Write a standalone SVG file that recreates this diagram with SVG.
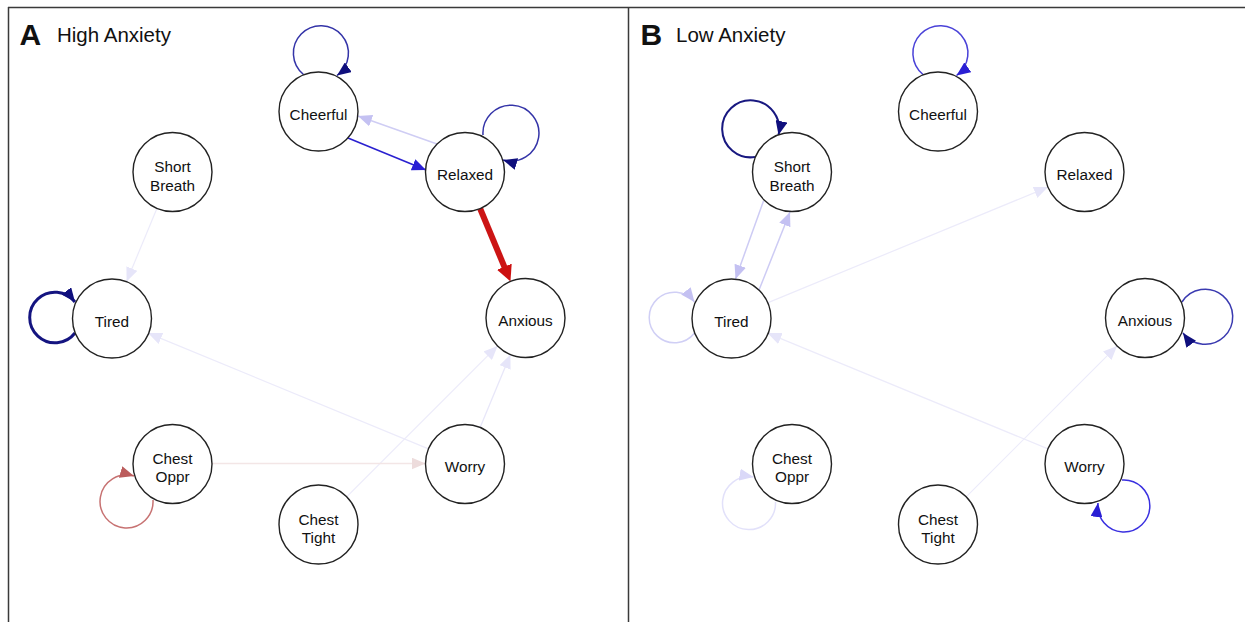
<svg xmlns="http://www.w3.org/2000/svg" width="1245" height="622" viewBox="0 0 1245 622">
<style>
.frame{stroke:#3a3a3a;stroke-width:1.5;fill:none}
.node circle{fill:#fff;stroke:#222;stroke-width:1.4}
.node text{font-family:"Liberation Sans",Arial,sans-serif;font-size:15.3px;fill:#111;text-anchor:middle}
.ttl{font-family:"Liberation Sans",Arial,sans-serif;fill:#111}
.e{fill:none}
</style>
<defs>
<marker id="m-navy" viewBox="0 0 14 12" markerUnits="userSpaceOnUse" markerWidth="14" markerHeight="12" refX="14" refY="6" orient="auto"><path d="M0,0 L14,6 L0,12 z" fill="#0f0f7d"/></marker>
<marker id="m-blue" viewBox="0 0 14 12" markerUnits="userSpaceOnUse" markerWidth="14" markerHeight="12" refX="14" refY="6" orient="auto"><path d="M0,0 L14,6 L0,12 z" fill="#2a1fd4"/></marker>
<marker id="m-lav" viewBox="0 0 14 12" markerUnits="userSpaceOnUse" markerWidth="14" markerHeight="12" refX="14" refY="6" orient="auto"><path d="M0,0 L14,6 L0,12 z" fill="#c4c1f2"/></marker>
<marker id="m-lav2" viewBox="0 0 14 12" markerUnits="userSpaceOnUse" markerWidth="14" markerHeight="12" refX="14" refY="6" orient="auto"><path d="M0,0 L14,6 L0,12 z" fill="#dad8f8"/></marker>
<marker id="m-vlight" viewBox="0 0 14 12" markerUnits="userSpaceOnUse" markerWidth="14" markerHeight="12" refX="14" refY="6" orient="auto"><path d="M0,0 L14,6 L0,12 z" fill="#e6e5f9"/></marker>
<marker id="m-pink" viewBox="0 0 14 12" markerUnits="userSpaceOnUse" markerWidth="14" markerHeight="12" refX="14" refY="6" orient="auto"><path d="M0,0 L14,6 L0,12 z" fill="#eddcdc"/></marker>
<marker id="m-brown" viewBox="0 0 14 12" markerUnits="userSpaceOnUse" markerWidth="14" markerHeight="12" refX="14" refY="6" orient="auto"><path d="M0,0 L14,6 L0,12 z" fill="#bb5c5c"/></marker>
<marker id="m-red" viewBox="0 0 16 16" markerUnits="userSpaceOnUse" markerWidth="16" markerHeight="16" refX="1" refY="8" orient="auto"><path d="M0,0 L16,8 L0,16 z" fill="#cc1010"/></marker>
</defs>
<rect width="1245" height="622" fill="#fff"/>
<g id="frame">
<line class="frame" x1="8" y1="7.5" x2="1245" y2="7.5"/>
<line class="frame" x1="8.5" y1="7" x2="8.5" y2="622"/>
<line class="frame" x1="628.5" y1="7" x2="628.5" y2="622"/>
</g>
<g id="titles">
<text class="ttl" x="19.5" y="45" font-size="30" font-weight="bold">A</text>
<text class="ttl" x="57" y="42" font-size="20.5">High Anxiety</text>
<text class="ttl" x="640.5" y="45" font-size="30" font-weight="bold">B</text>
<text class="ttl" x="676" y="42" font-size="20.5">Low Anxiety</text>
</g>
<g id="connectors">
<g id="edges-a">
<path class="e" d="M303.5,74.5 A27.5,27.5 0 1 1 337,75.5" stroke="#3434a8" stroke-width="1.5" marker-end="url(#m-navy)"/>
<path class="e" d="M483,135 A28,28 0 1 1 503,160" stroke="#3434a8" stroke-width="1.5" marker-end="url(#m-navy)"/>
<path class="e" d="M75,333 A25.3,25.3 0 1 1 75,302" stroke="#141480" stroke-width="3" marker-end="url(#m-navy)"/>
<path class="e" d="M153,500 A26.5,26.5 0 1 1 134,476" stroke="#c77272" stroke-width="1.5" marker-end="url(#m-brown)"/>
<path class="e" d="M348,138 L426,170" stroke="#2a20d0" stroke-width="1.6" marker-end="url(#m-blue)"/>
<path class="e" d="M437,144 L358,116" stroke="#cfcdf4" stroke-width="1.5" marker-end="url(#m-lav)"/>
<path class="e" d="M480.1,208.5 L504.7,267.6" stroke="#cc1414" stroke-width="6" marker-end="url(#m-red)"/>
<path class="e" d="M480.1,427.5 L510.4,354.5" stroke="#e8e7f9" stroke-width="1.3" marker-end="url(#m-vlight)"/>
<path class="e" d="M346.4,497.1 L497.6,345.9" stroke="#ecebfa" stroke-width="1.2" marker-end="url(#m-vlight)"/>
<path class="e" d="M211.5,463.5 L425.5,463.5" stroke="#f3e6e6" stroke-width="1.3" marker-end="url(#m-pink)"/>
<path class="e" d="M428.5,448.9 L148,333.1" stroke="#ecebfa" stroke-width="1.2" marker-end="url(#m-vlight)"/>
<path class="e" d="M156.9,208.5 L126.6,281.5" stroke="#ecebfa" stroke-width="1.2" marker-end="url(#m-vlight)"/>
</g>
<g id="edges-b" transform="translate(619.5,0)">
<path class="e" d="M303.5,74.5 A27.5,27.5 0 1 1 337,75.5" stroke="#4a42d8" stroke-width="1.5" marker-end="url(#m-blue)"/>
<path class="e" d="M135.5,157 A28.5,28.5 0 1 1 159,135" stroke="#181880" stroke-width="2" marker-end="url(#m-navy)"/>
<path class="e" d="M144,201 L116,279" stroke="#cdcbf4" stroke-width="1.5" marker-end="url(#m-lav)"/>
<path class="e" d="M139.5,290 L170.5,212" stroke="#cdcbf4" stroke-width="1.5" marker-end="url(#m-lav)"/>
<path class="e" d="M75,333 A25.3,25.3 0 1 1 75,302" stroke="#d0cff5" stroke-width="1.5" marker-end="url(#m-lav)"/>
<path class="e" d="M148,302.9 L428.5,187.1" stroke="#ecebfa" stroke-width="1.2" marker-end="url(#m-vlight)"/>
<path class="e" d="M428.5,448.9 L148,333.1" stroke="#ecebfa" stroke-width="1.2" marker-end="url(#m-vlight)"/>
<path class="e" d="M346.4,497.1 L497.6,345.9" stroke="#ecebfa" stroke-width="1.2" marker-end="url(#m-vlight)"/>
<path class="e" d="M562.5,302 A27.5,27.5 0 1 1 563.5,333" stroke="#3a3ab0" stroke-width="1.5" marker-end="url(#m-navy)"/>
<path class="e" d="M502.5,480 A26,26 0 1 1 478.5,503" stroke="#3a30e0" stroke-width="1.5" marker-end="url(#m-blue)"/>
<path class="e" d="M156,502 A26.5,26.5 0 1 1 134,477" stroke="#e2e1fa" stroke-width="1.5" marker-end="url(#m-lav2)"/>
</g>
</g>
<g id="nodes-a">
<g id="a-cheerful" class="node"><circle cx="318.5" cy="111.5" r="39.5"/><text x="318.5" y="119.5">Cheerful</text></g>
<g id="a-relaxed" class="node"><circle cx="465" cy="172" r="39.5"/><text x="465" y="180">Relaxed</text></g>
<g id="a-anxious" class="node"><circle cx="525.5" cy="318" r="39.5"/><text x="525.5" y="326">Anxious</text></g>
<g id="a-worry" class="node"><circle cx="465" cy="464" r="39.5"/><text x="465" y="472">Worry</text></g>
<g id="a-chesttight" class="node"><circle cx="318.5" cy="524.5" r="39.5"/><text x="318.5" y="524.5">Chest</text><text x="318.5" y="543">Tight</text></g>
<g id="a-chestoppr" class="node"><circle cx="172.5" cy="464" r="39.5"/><text x="172.5" y="463.5">Chest</text><text x="172.5" y="482">Oppr</text></g>
<g id="a-tired" class="node"><circle cx="112" cy="318.5" r="39.5"/><text x="112" y="326.5">Tired</text></g>
<g id="a-shortbreath" class="node"><circle cx="172.5" cy="172" r="39.5"/><text x="172.5" y="172">Short</text><text x="172.5" y="190.5">Breath</text></g>
</g>
<g id="nodes-b" transform="translate(619.5,0)">
<g id="b-cheerful" class="node"><circle cx="318.5" cy="111.5" r="39.5"/><text x="318.5" y="119.5">Cheerful</text></g>
<g id="b-relaxed" class="node"><circle cx="465" cy="172" r="39.5"/><text x="465" y="180">Relaxed</text></g>
<g id="b-anxious" class="node"><circle cx="525.5" cy="318" r="39.5"/><text x="525.5" y="326">Anxious</text></g>
<g id="b-worry" class="node"><circle cx="465" cy="464" r="39.5"/><text x="465" y="472">Worry</text></g>
<g id="b-chesttight" class="node"><circle cx="318.5" cy="524.5" r="39.5"/><text x="318.5" y="524.5">Chest</text><text x="318.5" y="543">Tight</text></g>
<g id="b-chestoppr" class="node"><circle cx="172.5" cy="464" r="39.5"/><text x="172.5" y="463.5">Chest</text><text x="172.5" y="482">Oppr</text></g>
<g id="b-tired" class="node"><circle cx="112" cy="318.5" r="39.5"/><text x="112" y="326.5">Tired</text></g>
<g id="b-shortbreath" class="node"><circle cx="172.5" cy="172" r="39.5"/><text x="172.5" y="172">Short</text><text x="172.5" y="190.5">Breath</text></g>
</g>
</svg>
